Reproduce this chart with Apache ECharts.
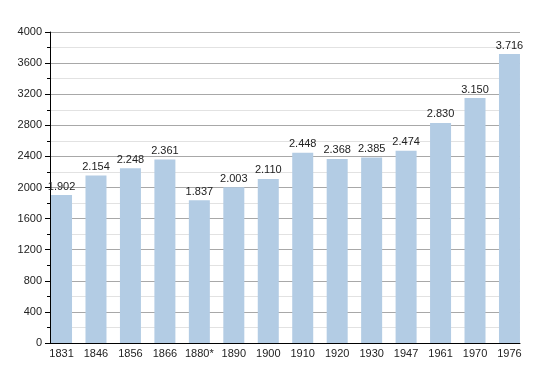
<!DOCTYPE html>
<html><head><meta charset="utf-8">
<script src="https://cdn.jsdelivr.net/npm/echarts@6/dist/echarts.min.js"></script>
<style>html,body{margin:0;padding:0;background:#fff}#c{width:550px;height:373px}</style>
</head><body><div id="c"></div>
<script>
const categories = ['1831','1846','1856','1866','1880*','1890','1900','1910','1920','1930','1947','1961','1970','1976'];
const population = [1902,2154,2248,2361,1837,2003,2110,2448,2368,2385,2474,2830,3150,3716];
const yTicks = {min:0, max:4000, interval:400};

function fmt(v){ const s=String(v); return s.length>3 ? s.slice(0,s.length-3)+'.'+s.slice(-3) : s; }

const chart = echarts.init(document.getElementById('c'), null, {renderer:'canvas'});
const font = 'Liberation Sans, Arial, sans-serif';
chart.setOption({
  animation:false,
  grid:[
    {left:44.3, right:23.3, top:32, bottom:30},
    {left:50, right:30, top:32, bottom:30}
  ],
  xAxis:[
    {type:'category', gridIndex:0, data:categories,
     axisLine:{show:false}, axisTick:{show:false},
     axisLabel:{color:'#222', fontFamily:font, fontSize:11, margin:5, interval:0}},
    {type:'category', gridIndex:1, data:[''],
     axisLine:{show:true, lineStyle:{color:'#000', width:1}}, axisTick:{show:false}, axisLabel:{show:false}}
  ],
  yAxis:[
    {type:'value', gridIndex:0, min:yTicks.min, max:yTicks.max, interval:yTicks.interval, show:false},
    {type:'value', gridIndex:1, min:yTicks.min, max:yTicks.max, interval:yTicks.interval,
     axisLine:{show:true, lineStyle:{color:'#000', width:1}},
     axisTick:{show:true, length:5, lineStyle:{color:'#000'}},
     minorTick:{show:true, splitNumber:2, length:3, lineStyle:{color:'#000'}},
     axisLabel:{color:'#222', fontFamily:font, fontSize:11, margin:8, formatter:v=>String(v)},
     splitLine:{show:true, lineStyle:{color:'#a8a8a8', width:1}},
     minorSplitLine:{show:true, lineStyle:{color:'#e2e2e2', width:1}}}
  ],
  series:[{
    type:'bar', xAxisIndex:0, yAxisIndex:0, data:population, barWidth:21,
    itemStyle:{color:'#b3cce4'},
    label:{show:true, position:'top', distance:3, color:'#222', fontFamily:font, fontSize:11,
      formatter:p=>fmt(p.value)}
  }]
});
</script></body></html>
